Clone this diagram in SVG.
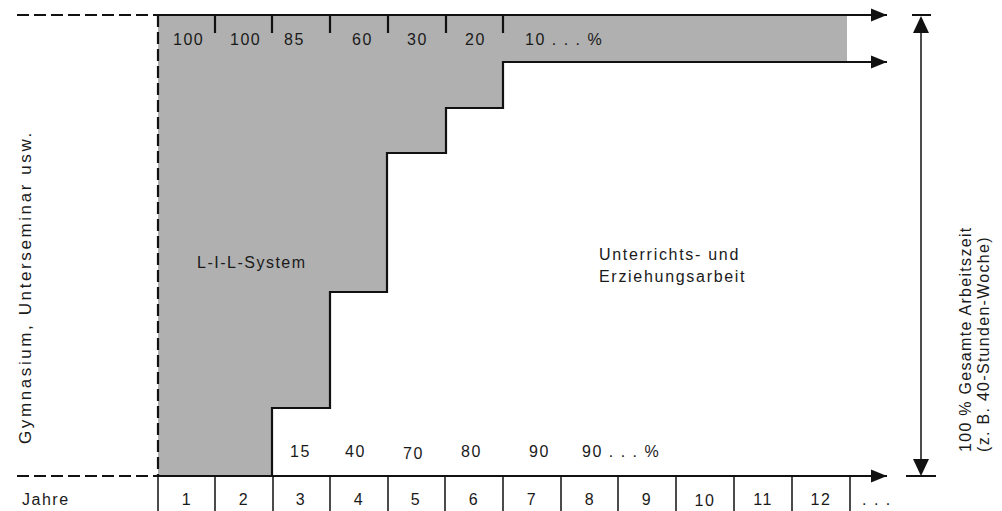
<svg xmlns="http://www.w3.org/2000/svg" width="1002" height="511" viewBox="0 0 1002 511">
  <style>
    text { font-family: "Liberation Sans", Arial, sans-serif; font-size: 16px; fill: #1a1a1a; letter-spacing: 1.5px; }
    .mid { text-anchor: middle; }
    .line { fill: none; stroke: #111; stroke-width: 2.2; }
    .thin { fill: none; stroke: #111; stroke-width: 1.5; }
    .dash { fill: none; stroke: #111; stroke-width: 2.2; stroke-dasharray: 12 5; }
  </style>
  <defs>
    <marker id="arr" markerWidth="18" markerHeight="14" refX="16" refY="7" orient="auto" markerUnits="userSpaceOnUse">
      <path d="M0,0.5 L16,7 L0,13.5 Z" fill="#111"/>
    </marker>
  </defs>
  <rect width="1002" height="511" fill="#ffffff"/>

  <!-- L-I-L shaded area -->
  <g id="lil-area">
    <path d="M158,15 H847 V62 H503 V108 H446 V153 H387 V292 H330 V408 H272 V476 H158 Z" fill="#b0b0b0"/>
    <text x="197" y="268">L-I-L-System</text>
  </g>

  <!-- teaching area label -->
  <g id="teaching-area">
    <text x="599" y="260" style="letter-spacing:1.7px">Unterrichts- und</text>
    <text x="599" y="282" style="letter-spacing:1.7px">Erziehungsarbeit</text>
  </g>

  <!-- connectors -->
  <g id="connectors">
    <path class="dash" d="M17,15 H158"/>
    <path class="dash" d="M17,476 H158"/>
    <path class="dash" d="M158,15 V476"/>
    <path class="line" d="M158,15 H887" marker-end="url(#arr)"/>
    <path class="line" d="M158,476 H887" marker-end="url(#arr)"/>
    <path class="line" d="M272,476 V408 H330 V292 H387 V153 H446 V108 H503 V62 H887" marker-end="url(#arr)"/>
    <!-- top ticks -->
    <path class="line" d="M215,15 V33 M272,15 V33 M330,15 V33 M388,15 V33 M446,15 V33 M503,15 V33"/>
  </g>

  <!-- dimension line: total working time -->
  <g id="dimension">
    <path class="thin" d="M921,24 V467"/>
    <path class="line" d="M912,15 H931 M906,476 H936"/>
    <path d="M921,16 L913,33 L929,33 Z" fill="#111"/>
    <path d="M921,476 L913,459 L929,459 Z" fill="#111"/>
    <g transform="translate(971,452) rotate(-90)">
      <text x="0" y="0" style="letter-spacing:1.3px">100 % Gesamte Arbeitszeit</text>
    </g>
    <g transform="translate(989,452) rotate(-90)">
      <text x="0" y="0" style="letter-spacing:1.3px">(z. B. 40-Stunden-Woche)</text>
    </g>
  </g>

  <!-- left label -->
  <g id="school-label">
    <g transform="translate(31,444) rotate(-90)">
      <text x="0" y="0" style="font-size:17px;letter-spacing:2.6px">Gymnasium, Unterseminar usw.</text>
    </g>
  </g>

  <!-- top percentages (L-I-L) -->
  <g id="lil-percent">
    <text x="173" y="45">100</text>
    <text x="230" y="45">100</text>
    <text x="284" y="45">85</text>
    <text x="352" y="45">60</text>
    <text x="407" y="45">30</text>
    <text x="465" y="45">20</text>
    <text x="525" y="45">10 . . . %</text>
  </g>

  <!-- bottom percentages (teaching) -->
  <g id="teach-percent">
    <text x="290" y="457">15</text>
    <text x="345" y="457">40</text>
    <text x="403" y="459">70</text>
    <text x="461" y="457">80</text>
    <text x="529" y="457">90</text>
    <text x="582" y="457">90 . . . %</text>
  </g>

  <!-- years axis -->
  <g id="years">
    <path class="thin" d="M158,476 V511 M215,476 V511 M273,476 V511 M330,476 V511 M388,476 V511 M445,476 V511 M503,476 V511 M561,476 V511 M618,476 V511 M676,476 V511 M734,476 V511 M792,476 V511 M850,476 V511"/>
    <text x="22" y="505">Jahre</text>
    <text class="mid" x="187" y="505">1</text>
    <text class="mid" x="244" y="505">2</text>
    <text class="mid" x="301" y="505">3</text>
    <text class="mid" x="359" y="505">4</text>
    <text class="mid" x="416" y="505">5</text>
    <text class="mid" x="474" y="505">6</text>
    <text class="mid" x="532" y="505">7</text>
    <text class="mid" x="590" y="505">8</text>
    <text class="mid" x="647" y="505">9</text>
    <text class="mid" x="705" y="506">10</text>
    <text class="mid" x="763" y="505">11</text>
    <text class="mid" x="821" y="505">12</text>
    <text x="862" y="505">. . .</text>
  </g>
</svg>
